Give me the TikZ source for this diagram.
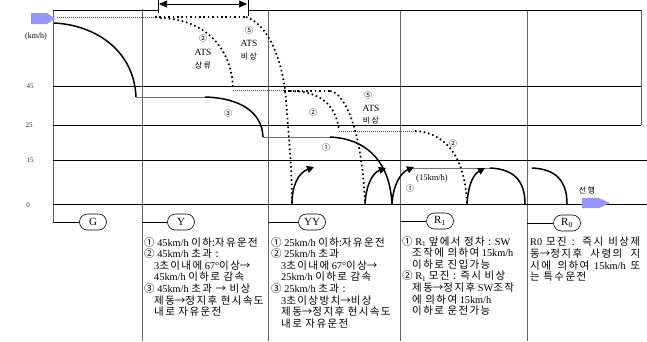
\documentclass[tikz,border=0pt]{standalone}
\usepackage{fontspec}
\setmainfont{Liberation Serif}
\newfontfamily\krf[Scale=1.02,WordSpace=1.5]{Noto Sans CJK KR}
\newfontfamily\krn{Noto Sans CJK KR}
\usetikzlibrary{arrows.meta}
\newcommand\kr[1]{{\krf #1}}
\XeTeXinterchartokenstate=1
\newXeTeXintercharclass\hangulclass
\newcount\hgc
\hgc="AC00
\loop
  \XeTeXcharclass\hgc=\hangulclass
  \advance\hgc by 1
\ifnum\hgc<"D7A4 \repeat
\newdimen\hgkern
\hgkern=1.4pt
\XeTeXinterchartoks\hangulclass\hangulclass={\kern\hgkern}
\definecolor{sigblue}{RGB}{150,150,250}
\tikzset{
  hgrid/.style={line width=0.7pt, black},
  vgrid/.style={line width=0.9pt, black!60},
  solidc/.style={line width=1.5pt, black},
  thinl/.style={line width=0.7pt, black!55},
  fdot/.style={line width=0.6pt, black!70, dash pattern=on 1pt off 1pt},
  tdot/.style={line width=1.7pt, black, dash pattern=on 1.6pt off 2.8pt},
  sig/.style={draw, line width=0.6pt, rounded corners=8pt, minimum width=27pt, minimum height=16pt, inner sep=1pt, font=\fontsize{11}{11}\selectfont},
  lab/.style={font=\fontsize{8}{8}\selectfont\krn, inner sep=0pt},
  ats/.style={font=\fontsize{9.5}{9.5}\selectfont, inner sep=0pt},
  axl/.style={font=\fontsize{7}{7}\selectfont, inner sep=0pt, text=black!80},
  arr/.style={solidc, -{Triangle[length=7pt,width=7pt]}},
  txt/.style={anchor=north west, align=left, inner sep=0pt, font=\fontsize{10.3}{11.6}\selectfont},
}
\begin{document}
\begin{tikzpicture}[x=1pt,y=-1pt]
\useasboundingbox (0,0) rectangle (647,341);
% grid
\draw[vgrid] (53,10) -- (53,222);
\draw[vgrid] (142,9) -- (142,341);
\draw[vgrid] (268,10) -- (268,341);
\draw[vgrid] (400,10) -- (400,341);
\draw[vgrid] (527,10) -- (527,341);
\draw[vgrid] (641,10) -- (641,125);
\draw[hgrid] (53,10) -- (158,10);
\draw[hgrid] (248,10) -- (641,10);
\draw[hgrid] (53,86) -- (641,86);
\draw[hgrid] (53,125) -- (641,125);
\draw[hgrid] (53,160) -- (647,160);
\draw[hgrid] (53,204) -- (647,204);
% dimension arrow
\draw[line width=0.7pt] (158,0) -- (158,13);
\draw[line width=0.7pt] (248,0) -- (248,16);
\draw[line width=0.7pt, {Triangle[length=8pt,width=7pt]}-{Triangle[length=8pt,width=7pt]}] (159,4) -- (247,4);
% axis labels
\node[font=\fontsize{8}{8}\selectfont, inner sep=0pt] (kmh) at (36,37) {(km/h)};
\node[axl] (v45) at (30,86) {45};
\node[axl] (v25) at (29,125) {25};
\node[axl] (v15) at (30,160) {15};
\node[axl] (v0) at (28,205) {0};
% blue arrows
\fill[sigblue] (31,13) -- (47,13) -- (55,18.5) -- (47,24) -- (31,24) -- cycle;
\fill[sigblue] (582,198) -- (599,198) -- (610,203) -- (599,208) -- (582,208) -- cycle;
\node[lab] (sh) at (587,190) {선행};
% fine dotted lines
\draw[fdot] (57,17) -- (155,17);
\draw[fdot] (233,90) -- (284,90);
\draw[fdot] (339,131) -- (415,131);
% thick dotted
\draw[tdot] (155,17) -- (246,17);
\draw[tdot] (160,18) .. controls (205,19) and (232,48) .. (233,89);
\draw[tdot] (246,17) .. controls (268,24) and (283,60) .. (286,100) .. controls (289,140) and (292,170) .. (292,204);
\draw[tdot] (284,91) -- (330,91);
\draw[tdot] (290,91) .. controls (320,91) and (336,105) .. (339,130);
\draw[tdot] (330,91) .. controls (345,93) and (362,130) .. (365,204);
\draw[tdot] (415,131) .. controls (440,132) and (465,150) .. (467,204);
% solid speed curves
\draw[solidc] (54,23) .. controls (95,25) and (134,50) .. (136,97);
\draw[thinl] (136,97) -- (205,97);
\draw[solidc] (205,97) .. controls (240,98) and (262,112) .. (263,137);
\draw[thinl] (263,137) -- (330,137);
\draw[solidc] (330,137) .. controls (370,139) and (390,165) .. (392,204);
\draw[thinl] (408,168) -- (490,168);
\draw[solidc] (490,168) .. controls (515,169) and (525,182) .. (525,204);
\draw[solidc] (532,168) .. controls (557,169) and (567,182) .. (567,204);
% rising arrows
\draw[arr] (292,204) .. controls (292,186) and (298,173) .. (314,167);
\draw[arr] (365,204) .. controls (366,186) and (372,173) .. (386,168);
\draw[arr] (392,204) .. controls (393,186) and (400,173) .. (414,167);
\draw[arr] (467,204) .. controls (468,188) and (472,175) .. (485,168);
% chart labels
\node[lab] (n2a) at (203,38) {②};
\node[ats] (atsa) at (203,52) {ATS};
\node[lab] (sra) at (203,65) {상류};
\node[lab] (n5a) at (249,30) {⑤};
\node[ats] (atsb) at (249,43) {ATS};
\node[lab] (bsb) at (249,57) {비상};
\node[lab] (n3) at (228,113) {③};
\node[lab] (n2b) at (313,112) {②};
\node[lab] (n1a) at (326,147) {①};
\node[lab] (n5c) at (368,95) {⑤};
\node[ats] (atsc) at (371,108) {ATS};
\node[lab] (bsc) at (371,121) {비상};
\node[lab] (n2c) at (453,143) {②};
\node[font=\fontsize{8.5}{8.5}\selectfont, inner sep=0pt] (k15) at (432,178) {(15km/h)};
\node[lab] (n1b) at (410,188) {①};
% signal nodes
\node[sig] (G) at (93,222) {G};
\node[sig] (Y) at (181,222) {Y};
\node[sig] (YY) at (312,222) {YY};
\node[sig] (R1) at (440,221) {R\textsubscript{1}};
\node[sig] (R0) at (567,223) {R\textsubscript{0}};
\coordinate (cG) at (53,222);
\coordinate (cY) at (142,222);
\coordinate (cYY) at (268,222);
\coordinate (cR1) at (400,221);
\coordinate (cR0) at (527,223);
\draw[line width=0.7pt] (cG) -- (G);
\draw[line width=0.7pt] (cY) -- (Y);
\draw[line width=0.7pt] (cYY) -- (YY);
\draw[line width=0.7pt] (cR1) -- (R1);
\draw[line width=0.7pt] (cR0) -- (R0);
% text blocks
\node[txt] (tY) at (144,237) {\kr{①} 45km/h \kr{이하:자유운전}\\
\kr{②} 45km/h \kr{초과 :}\\
\hspace*{10pt}3\kr{초이내에} 67°\kr{이상→}\\
\hspace*{10pt}45km/h \kr{이하로 감속}\\
\kr{③} 45km/h \kr{초과 → 비상}\\
\hspace*{10pt}\kr{제동→정지후 현시속도}\\
\hspace*{10pt}\kr{내로 자유운전}};
\node[txt] (tYY) at (271,237) {\kr{①} 25km/h \kr{이하:자유운전}\\
\kr{②} 25km/h \kr{초과}\\
\hspace*{10pt}3\kr{초이내에} 67°\kr{이상→}\\
\hspace*{10pt}25km/h \kr{이하로 감속}\\
\kr{③} 25km/h \kr{초과 :}\\
\hspace*{10pt}3\kr{초이상방치→비상}\\
\hspace*{10pt}\kr{제동→정지후 현시속도}\\
\hspace*{10pt}\kr{내로 자유운전}};
\node[txt] (tR1) at (402,236) {\kr{①} R\textsubscript{1} \kr{앞에서 정차 :} SW\\
\hspace*{10pt}\kr{조작에 의하여} 15km/h\\
\hspace*{10pt}\kr{이하로 진입가능}\\
\kr{②} R\textsubscript{1} \kr{모진 : 즉시 비상}\\
\hspace*{10pt}\kr{제동→정지후} SW\kr{조작}\\
\hspace*{10pt}\kr{에 의하여} 15km/h\\
\hspace*{10pt}\kr{이하로 운전가능}};
\node[txt] (tR0) at (530,237) {\makebox[110pt][s]{R0 \kr{모진 : 즉시 비상제}}\\
\makebox[110pt][s]{\kr{동→정지후 사령의 지}}\\
\makebox[110pt][s]{\kr{시에 의하여} 15km/h \kr{또}}\\
\kr{는 특수운전}};
\end{tikzpicture}
\end{document}
